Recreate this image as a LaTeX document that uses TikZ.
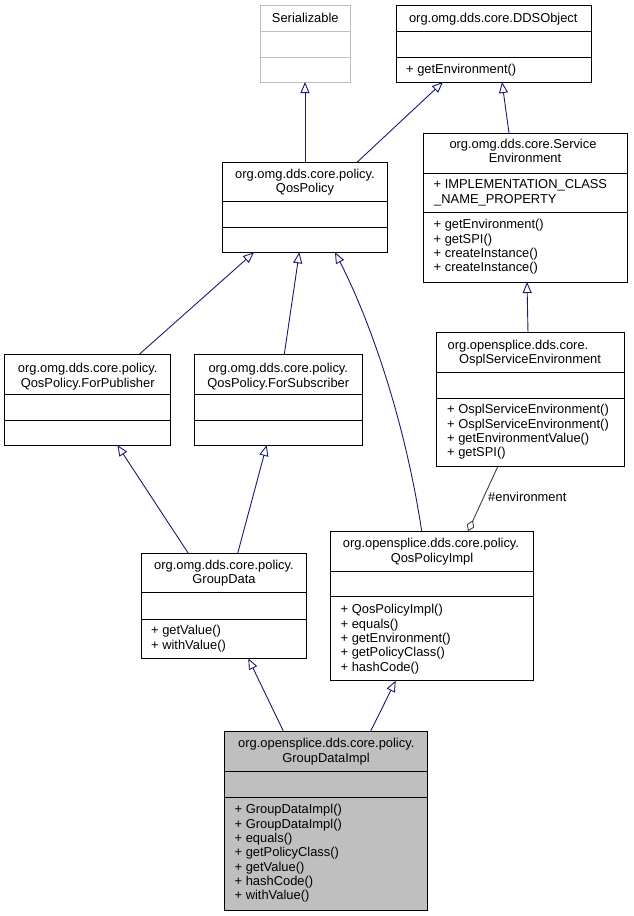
\documentclass[tikz,border=0pt]{standalone}
\usepackage{fontspec}
\setmainfont{Liberation Sans}
\usetikzlibrary{arrows.meta,calc}
\definecolor{edgeblue}{HTML}{191970}
\definecolor{agggray}{HTML}{404040}
\definecolor{greyl}{HTML}{BFBFBF}
\newcommand\fs{\fontsize{12.9}{14.3}\selectfont}
\newcommand\cls[6]{\node[box,#6,minimum width=#4pt-#2pt,minimum height=#5pt-#3pt] (#1) at (#2,#3) {};}
\begin{document}
\begin{tikzpicture}[x=1pt,y=-1pt,
 box/.style={draw=black,line width=1pt,inner sep=0,outer sep=0,anchor=north west},
 sep/.style={draw=black,line width=1pt},
 ttl/.style={inner sep=0,font=\fs,anchor=base},
 mem/.style={inner sep=0,font=\fs,anchor=base west},
 inh/.style={draw=edgeblue,line width=0.9pt,-{Triangle[open,length=11pt,width=9pt]}},
 agg/.style={draw=agggray,line width=0.9pt,{Diamond[open,length=12pt,width=8pt]}-},
]
\useasboundingbox (0,0) rectangle (633,916);

% Serializable
\cls{ser}{260.5}{5}{350}{82}{draw=greyl}
\draw[sep,draw=greyl] (260.5,31) -- (350,31) (260.5,57) -- (350,57);
\node[ttl] (serT) at (305.3,22.1) {Serializable};

% DDSObject
\cls{dds}{396}{5}{591}{82}{}
\draw[sep] (396,31) -- (591,31) (396,57) -- (591,57);
\node[ttl] (ddsT) at (493.3,22.1) {org.omg.dds.core.DDSObject};
\node[mem] (ddsM1) at (406,73.6) {+ getEnvironment()};

% QosPolicy
\cls{qp}{222.3}{162.3}{387.7}{252.3}{}
\draw[sep] (222.3,201.7) -- (387.7,201.7) (222.3,227.3) -- (387.7,227.3);
\node[ttl] (qpT1) at (305,178.6) {org.omg.dds.core.policy.};
\node[ttl] (qpT2) at (305,192.9) {QosPolicy};

% ServiceEnvironment
\cls{se}{423}{133}{627.3}{282}{}
\draw[sep] (423,173) -- (627.3,173) (423,212.3) -- (627.3,212.3);
\node[ttl] (seT1) at (523,148.6) {org.omg.dds.core.Service};
\node[ttl] (seT2) at (525,162.9) {Environment};
\node[mem] (seA1) at (433.5,188.9) {+ IMPLEMENTATION\_CLASS};
\node[mem] (seA2) at (434,203.1) {\_NAME\_PROPERTY};
\node[mem] (seM1) at (433.5,228.6) {+ getEnvironment()};
\node[mem] (seM2) at (433.5,243.0) {+ getSPI()};
\node[mem] (seM3) at (433.5,257.4) {+ createInstance()};
\node[mem] (seM4) at (433.5,271.8) {+ createInstance()};

% ForPublisher
\cls{fp}{4.7}{354.3}{170.7}{445}{}
\draw[sep] (4.7,394.7) -- (170.7,394.7) (4.7,420) -- (170.7,420);
\node[ttl] (fpT1) at (87.7,372.9) {org.omg.dds.core.policy.};
\node[ttl] (fpT2) at (87.7,387.2) {QosPolicy.ForPublisher};

% ForSubscriber
\cls{fs}{194.3}{354.3}{362.3}{445}{}
\draw[sep] (194.3,394.7) -- (362.3,394.7) (194.3,420) -- (362.3,420);
\node[ttl] (fsT1) at (278.3,372.9) {org.omg.dds.core.policy.};
\node[ttl] (fsT2) at (278.3,387.2) {QosPolicy.ForSubscriber};

% OsplServiceEnvironment
\cls{os}{436}{332.7}{624}{466.7}{}
\draw[sep] (436,372.3) -- (624,372.3) (436,398.3) -- (624,398.3);
\node[ttl] (osT1) at (518,349.6) {org.opensplice.dds.core.};
\node[ttl] (osT2) at (530,363.9) {OsplServiceEnvironment};
\node[mem] (osM1) at (447,413.9) {+ OsplServiceEnvironment()};
\node[mem] (osM2) at (447,428.2) {+ OsplServiceEnvironment()};
\node[mem] (osM3) at (447,442.5) {+ getEnvironmentValue()};
\node[mem] (osM4) at (447,456.8) {+ getSPI()};

% GroupData
\cls{gd}{141}{553.3}{306.7}{658.3}{}
\draw[sep] (141,592.7) -- (306.7,592.7) (141,619) -- (306.7,619);
\node[ttl] (gdT1) at (224,569.6) {org.omg.dds.core.policy.};
\node[ttl] (gdT2) at (224,583.9) {GroupData};
\node[mem] (gdM1) at (151,634.6) {+ getValue()};
\node[mem] (gdM2) at (151,649.1) {+ withValue()};

% QosPolicyImpl
\cls{qi}{330.3}{531.3}{533.7}{680.7}{}
\draw[sep] (330.3,571) -- (533.7,571) (330.3,596.7) -- (533.7,596.7);
\node[ttl] (qiT1) at (431,547.9) {org.opensplice.dds.core.policy.};
\node[ttl] (qiT2) at (432,562.2) {QosPolicyImpl};
\node[mem] (qiM1) at (340.5,613.9) {+ QosPolicyImpl()};
\node[mem] (qiM2) at (340.5,628.2) {+ equals()};
\node[mem] (qiM3) at (340.5,642.5) {+ getEnvironment()};
\node[mem] (qiM4) at (340.5,656.8) {+ getPolicyClass()};
\node[mem] (qiM5) at (340.5,671.1) {+ hashCode()};

% GroupDataImpl
\cls{gi}{224.3}{731}{427.7}{910}{fill=greyl}
\draw[sep] (224.3,771) -- (427.7,771) (224.3,797.3) -- (427.7,797.3);
\node[ttl] (giT1) at (326.3,747.9) {org.opensplice.dds.core.policy.};
\node[ttl] (giT2) at (326,762.2) {GroupDataImpl};
\node[mem] (giM1) at (234.5,813.9) {+ GroupDataImpl()};
\node[mem] (giM2) at (234.5,828.2) {+ GroupDataImpl()};
\node[mem] (giM3) at (234.5,842.5) {+ equals()};
\node[mem] (giM4) at (234.5,856.8) {+ getPolicyClass()};
\node[mem] (giM5) at (234.5,871.1) {+ getValue()};
\node[mem] (giM6) at (234.5,885.4) {+ hashCode()};
\node[mem] (giM7) at (234.5,899.7) {+ withValue()};

% connectors
\draw[inh] ($(qp.north west)+(82.7,0)$) -- ($(ser.south west)+(44.5,0)$);
\draw[inh] ($(qp.north west)+(134.7,0)$) -- ($(dds.south west)+(47,0)$);
\draw[inh] ($(se.north west)+(86,0)$) -- ($(dds.south west)+(106,0)$);
\draw[inh] ($(fp.north west)+(134.6,0)$) -- ($(qp.south west)+(31.7,0)$);
\draw[inh] ($(fs.north west)+(90,0)$) -- ($(qp.south west)+(77,0)$);
\draw[inh] ($(qi.north west)+(91.4,0)$) .. controls +(-16.7,-111) and +(35,68) .. ($(qp.south west)+(112.7,0)$);
\draw[inh] ($(os.north west)+(92,0)$) -- ($(se.south west)+(104,0)$);
\draw[inh] ($(gd.north west)+(47.3,0)$) -- ($(fp.south west)+(112.6,0)$);
\draw[inh] ($(gd.north west)+(96.7,0)$) -- ($(fs.south west)+(72.4,0)$);
\draw[inh] ($(gi.north west)+(59,0)$) -- ($(gd.south west)+(107.3,0)$);
\draw[inh] ($(gi.north west)+(146.4,0)$) -- ($(qi.south west)+(65.4,0)$);
\draw[agg] ($(qi.north west)+(137.7,0)$) -- ($(os.south west)+(61.7,0)$);
\node[mem] (envL) at (488,501.3) {\#environment};
\end{tikzpicture}
\end{document}
